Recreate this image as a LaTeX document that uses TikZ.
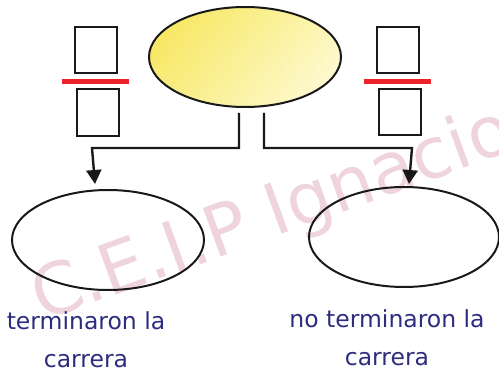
\documentclass[tikz,border=0pt]{standalone}
\usepackage{fontspec}
\setmainfont{DejaVu Sans}
\usetikzlibrary{shapes.geometric,arrows.meta}
\definecolor{ytop}{HTML}{F7E867}
\definecolor{ybot}{HTML}{FDF9CC}
\definecolor{txtblue}{HTML}{2E2C7E}
\definecolor{wmpink}{HTML}{EFD5DB}
\definecolor{barred}{HTML}{EE2229}
\begin{document}
\begin{tikzpicture}[x=1pt,y=-1pt,
  oval/.style={ellipse,draw=black!90,line width=2pt,inner sep=0pt},
  sqbox/.style={draw=black!90,line width=2.2pt,inner sep=0pt},
  redbar/.style={draw=barred,line width=5pt},
  conn/.style={draw=black!90,line width=2.4pt,-{Triangle[length=14pt,width=15pt]}},
  lbl/.style={text=txtblue,font=\fontsize{23.5}{38}\selectfont,align=center,inner sep=0pt}]
\useasboundingbox (0,0) rectangle (499,374);
% watermark
\node[text=wmpink,font=\fontsize{71}{71}\selectfont,rotate=20,anchor=base west,inner sep=0pt] (wm) at (42,322) {C.E.I.P Ignacio};
% fraction boxes
\draw[sqbox] (75,27) rectangle (117,73);
\draw[sqbox] (77,89) rectangle (119,136);
\coordinate (rl1) at (62,82); \coordinate (rl2) at (129,82);
\draw[redbar] (rl1) -- (rl2);
\draw[sqbox] (377,27) rectangle (419,73);
\draw[sqbox] (379,89) rectangle (421,135);
\coordinate (rr1) at (364,82); \coordinate (rr2) at (431,82);
\draw[redbar] (rr1) -- (rr2);
% ellipses
\node[oval,minimum width=192pt,minimum height=100pt,top color=ytop,bottom color=ybot,shading angle=50] (top) at (245,57) {};
\node[oval,minimum width=192pt,minimum height=100pt] (left) at (108,240) {};
\node[oval,minimum width=190pt,minimum height=100pt] (right) at (404,237) {};
% connectors
\coordinate (l0) at (239,113); \coordinate (l1) at (239,148); \coordinate (l2) at (92,148); \coordinate (ltip) at (95,184);
\coordinate (r0) at (264,113); \coordinate (r1) at (264,148); \coordinate (r2) at (412,148); \coordinate (rtip) at (409,184);
\draw[conn] (l0) -- (l1) -- (l2) -- (ltip);
\draw[conn] (r0) -- (r1) -- (r2) -- (rtip);
% labels
\node[lbl,anchor=base] (lt) at (86,368) {terminaron la\\carrera};
\node[lbl,anchor=base] (rt) at (387,366) {no terminaron la\\carrera};
\end{tikzpicture}
\end{document}
